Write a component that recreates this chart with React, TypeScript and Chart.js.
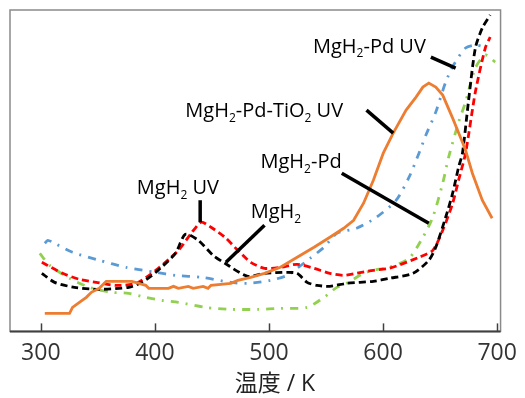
import { useEffect, useRef } from 'react';
import { Chart, registerables } from 'chart.js';

Chart.register(...registerables);

const FONT = '"Open Sans", "Noto Sans CJK JP", sans-serif';

const xTicks = [300, 400, 500, 600, 700];
const xMin = 273;
const xMax = 703;
const yMin = 0;
const yMax = 321;

// [temperature K, signal (a.u.)]
const mgh2: [number, number][] = [
  [300.9, 58], [312.1, 49], [329.5, 44], [351.2, 42], [377.2, 44], [388.5, 49], [400.7, 59],
  [418.0, 78], [426.7, 97], [438.0, 91], [451.0, 76], [461.4, 68], [481.4, 55], [496.1, 58],
  [516.1, 59], [524.7, 58], [533.4, 49], [542.1, 46], [553.4, 45], [568.1, 48], [591.5, 50],
  [605.4, 53], [626.3, 58], [640.1, 71], [646.2, 84], [654.9, 114], [661.0, 138], [666.2, 164],
  [669.6, 178], [674.8, 229], [680.9, 283], [687.0, 303], [693.9, 316],
];

const mgh2UV: [number, number][] = [
  [300.9, 69], [319.1, 58], [333.8, 52], [348.6, 49], [365.9, 46], [383.3, 48], [400.7, 61],
  [420.6, 81], [431.9, 98], [440.6, 109], [449.2, 104], [461.4, 94], [472.7, 81], [484.0, 69],
  [496.1, 63], [510.0, 64], [524.7, 67], [539.5, 63], [553.4, 58], [565.5, 56], [576.8, 58],
  [591.5, 61], [605.4, 63], [631.5, 74], [643.6, 81], [652.3, 101], [661.0, 128], [666.2, 151],
  [672.3, 178], [680.9, 239], [689.6, 283], [693.9, 294],
];

const mgh2Pd: [number, number][] = [
  [299.1, 78], [307.8, 66], [325.2, 53], [342.5, 44], [362.5, 39], [377.2, 38], [392.0, 34],
  [405.9, 31], [420.6, 29], [444.0, 24], [466.6, 22], [490.0, 22], [510.0, 23], [533.4, 24],
  [548.2, 34], [559.5, 44], [568.1, 48], [582.9, 58], [591.5, 61], [605.4, 64], [622.8, 73],
  [634.9, 94], [643.6, 114], [652.3, 148], [657.5, 174], [666.2, 209], [672.3, 229],
  [680.9, 263], [689.6, 276], [698.3, 269],
];

const mgh2PdUV: [number, number][] = [
  [303.5, 88], [306.1, 91], [310.4, 89], [327.8, 79], [351.2, 71], [374.6, 64], [400.7, 59],
  [418.0, 56], [440.6, 54], [466.6, 49], [481.4, 48], [501.3, 51], [516.1, 56], [524.7, 63],
  [536.0, 73], [548.2, 84], [559.5, 98], [576.8, 103], [594.2, 114], [611.5, 131], [622.8, 154],
  [631.5, 178], [637.5, 196], [646.2, 219], [654.9, 249], [661.8, 266], [672.3, 283],
  [680.9, 286], [689.6, 284],
];

const mgh2PdTiO2UV: [number, number][] = [
  [303.5, 18], [325.2, 18], [327.8, 24], [333.8, 29], [339.9, 34], [344.3, 39], [351.2, 43],
  [357.3, 50], [379.8, 50], [385.9, 48], [392.0, 46], [394.6, 43], [411.9, 43], [416.3, 45],
  [420.6, 43], [429.3, 45], [433.6, 43], [442.3, 45], [446.6, 43], [449.2, 46], [466.6, 48],
  [472.7, 51], [484.0, 54], [496.1, 58], [510.0, 64], [524.7, 74], [539.5, 84], [553.4, 94],
  [565.5, 103], [574.2, 111], [582.9, 128], [591.5, 151], [600.2, 178], [608.9, 198],
  [620.2, 221], [628.9, 234], [634.9, 244], [640.1, 248], [646.2, 244], [652.3, 236],
  [661.0, 213], [669.6, 189], [672.3, 181], [678.3, 158], [687.0, 131], [695.6, 113],
];

// annotation labels ({} = subscript), anchors in data coords (left, baseline)
const labelTexts = ['MgH{2}-Pd UV', 'MgH{2}-Pd-TiO{2} UV', 'MgH{2}-Pd', 'MgH{2} UV', 'MgH{2}'];
const labelAnchors: [number, number][] = [[538.6, 278], [426.7, 214], [492.6, 163], [384.2, 137], [484.0, 113]];
// pointer lines [x1, y1, x2, y2] in data coords
const pointerLines: [number, number, number, number][] = [
  [641.9, 274, 663.6, 263],
  [585.5, 221, 608.9, 198],
  [563.8, 158, 640.1, 108],
  [439.7, 131, 439.7, 109],
  [496.1, 106, 462.3, 69],
];
const axisTitle = '温度 / K';

const toPts = (a: [number, number][]) => a.map(([x, y]) => ({ x, y }));

function drawRich(ctx: CanvasRenderingContext2D, text: string, x: number, y: number, size: number) {
  const parts = text.split(/(\{[^}]*\})/).filter(Boolean);
  let cx = x;
  for (const p of parts) {
    const sub = p.startsWith('{');
    const t = sub ? p.slice(1, -1) : p;
    ctx.font = `${sub ? Math.round(size * 0.62) : size}px ${FONT}`;
    ctx.fillText(t, cx, sub ? y + size * 0.22 : y);
    cx += ctx.measureText(t).width;
  }
}

const framePlugin = {
  id: 'frame',
  beforeDatasetsDraw(chart: any) {
    const { ctx, chartArea: a, scales } = chart;
    ctx.save();
    ctx.strokeStyle = '#8a8a8a';
    ctx.lineWidth = 1.5;
    ctx.strokeRect(a.left, a.top, a.right - a.left, a.bottom - a.top);
    ctx.strokeStyle = '#404040';
    ctx.lineWidth = 2;
    ctx.beginPath();
    ctx.moveTo(a.left, a.bottom);
    ctx.lineTo(a.right, a.bottom);
    ctx.stroke();
    ctx.lineWidth = 1.5;
    for (const v of xTicks) {
      const px = Math.round(scales.x.getPixelForValue(v)) + 0.5;
      ctx.beginPath();
      ctx.moveTo(px, a.bottom);
      ctx.lineTo(px, a.bottom - 8);
      ctx.stroke();
    }
    ctx.restore();
  },
  afterDatasetsDraw(chart: any) {
    const { ctx, chartArea: a, scales } = chart;
    const sx = scales.x, sy = scales.y;
    ctx.save();
    ctx.strokeStyle = '#000';
    ctx.lineWidth = 3.5;
    ctx.lineCap = 'butt';
    for (const [x1, y1, x2, y2] of pointerLines) {
      ctx.beginPath();
      ctx.moveTo(sx.getPixelForValue(x1), sy.getPixelForValue(y1));
      ctx.lineTo(sx.getPixelForValue(x2), sy.getPixelForValue(y2));
      ctx.stroke();
    }
    ctx.fillStyle = '#000';
    ctx.textBaseline = 'alphabetic';
    ctx.textAlign = 'left';
    labelTexts.forEach((t, i) => {
      const [lx, ly] = labelAnchors[i];
      drawRich(ctx, t, sx.getPixelForValue(lx), sy.getPixelForValue(ly), 20);
    });
    ctx.fillStyle = '#222';
    ctx.font = `23px ${FONT}`;
    ctx.textAlign = 'center';
    ctx.textBaseline = 'middle';
    ctx.fillText(axisTitle, a.left + (a.right - a.left) * 0.54, 384);
    ctx.restore();
  },
};

export default function App() {
  const ref = useRef<HTMLCanvasElement | null>(null);
  useEffect(() => {
    if (!ref.current) return;
    const common = { pointRadius: 0, borderWidth: 2.8, fill: false, tension: 0.25 };
    const chart = new Chart(ref.current, {
      type: 'line',
      data: {
        datasets: [
          { ...common, label: 'MgH2-Pd-TiO2 UV', data: toPts(mgh2PdTiO2UV), borderColor: '#ed7d31', tension: 0 },
          { ...common, label: 'MgH2', data: toPts(mgh2), borderColor: '#000000', borderDash: [7, 4] },
          { ...common, label: 'MgH2 UV', data: toPts(mgh2UV), borderColor: '#ff0000', borderDash: [7, 4] },
          { ...common, label: 'MgH2-Pd', data: toPts(mgh2Pd), borderColor: '#92d050', borderDash: [8, 7, 2, 7] },
          { ...common, label: 'MgH2-Pd UV', data: toPts(mgh2PdUV), borderColor: '#5b9bd5', borderDash: [8, 7, 2, 7] },
        ],
      },
      options: {
        animation: false,
        responsive: false,
        maintainAspectRatio: false,
        layout: { padding: { left: 10, top: 10, right: 20, bottom: 23 } },
        plugins: { legend: { display: false }, tooltip: { enabled: false } },
        scales: {
          x: {
            type: 'linear',
            min: xMin,
            max: xMax,
            afterBuildTicks: (s: any) => { s.ticks = xTicks.map((v) => ({ value: v })); },
            grid: { display: false, drawTicks: false },
            border: { display: false },
            ticks: { color: '#333', font: { family: FONT, size: 23 }, padding: 8, maxRotation: 0, autoSkip: false },
          },
          y: { display: false, min: yMin, max: yMax },
        },
      },
      plugins: [framePlugin],
    });
    return () => chart.destroy();
  }, []);
  return (
    <div style={{ position: 'fixed', left: 0, top: 0, width: 525, height: 398, background: '#fff' }}>
      <canvas ref={ref} width={525} height={398} style={{ width: 525, height: 398 }} />
    </div>
  );
}
